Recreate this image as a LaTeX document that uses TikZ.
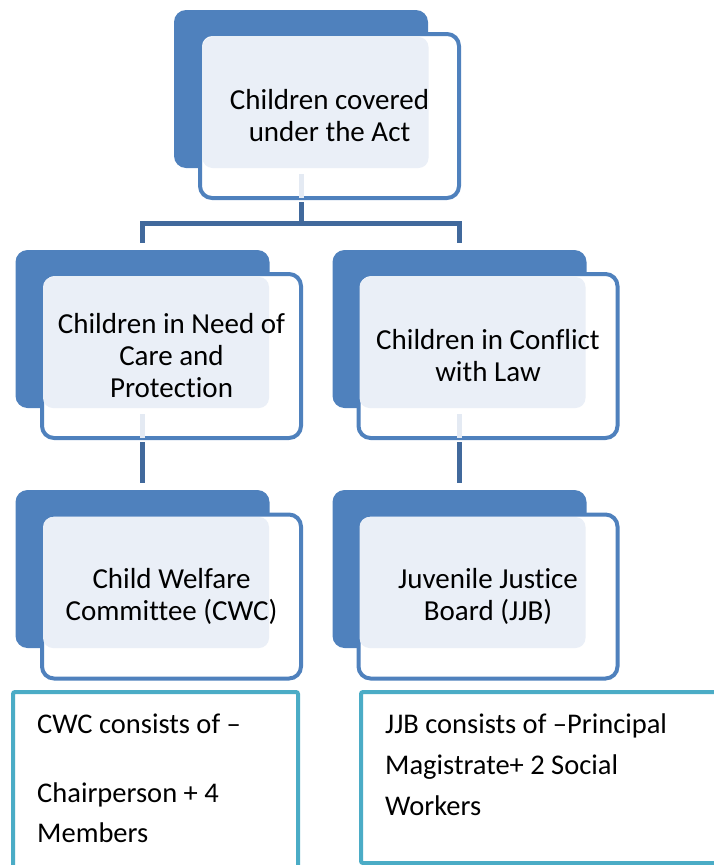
\documentclass[tikz,border=0pt]{standalone}
\usepackage{fontspec}
\setmainfont[Ligatures={NoCommon}]{Carlito}
\usetikzlibrary{calc}
\definecolor{accA}{HTML}{4F81BD}
\definecolor{connC}{HTML}{41699C}
\definecolor{lightF}{HTML}{EAEFF7}
\definecolor{stubC}{HTML}{E4EAF3}
\definecolor{cyanB}{HTML}{4BACC6}
\tikzset{
  backbox/.style={rectangle, rounded corners=12pt, fill=accA, draw=none, inner sep=0pt, minimum width=254pt, minimum height=158pt},
  frontbox/.style={rectangle, rounded corners=12pt, fill=white, draw=accA, line width=4pt, inner sep=0pt, minimum width=259pt, minimum height=164pt},
  lightbox/.style={rectangle, rounded corners=10pt, fill=lightF, draw=none, inner sep=0pt, minimum width=226pt, minimum height=131pt},
  conn/.style={draw=connC, line width=5pt},
  stub/.style={draw=stubC, line width=5pt},
  lbl/.style={align=center, font=\fontsize{29}{32}\selectfont, inner sep=0pt},
  note/.style={anchor=base west, font=\fontsize{28.5}{34}\selectfont, inner sep=0pt},
  notebox/.style={draw=cyanB, line width=4pt, fill=white, rounded corners=2pt}
}
\begin{document}
\begin{tikzpicture}[x=1pt,y=-1pt]
\useasboundingbox (0,0) rectangle (713,865);
% top unit
\node[backbox] (tb) at (301,89) {};
\node[frontbox] (tf) at (329.5,116) {};
\node[lightbox] (tl) at (315.5,102.5) {};
% middle left
\node[backbox] (mlb) at (142.5,329) {};
\node[frontbox] (mlf) at (171.5,356) {};
\node[lightbox] (mll) at (156,342.5) {};
% middle right
\node[backbox] (mrb) at (459.5,329) {};
\node[frontbox] (mrf) at (488,356) {};
\node[lightbox] (mrl) at (472.5,342.5) {};
% bottom left
\node[backbox] (blb) at (142.5,569) {};
\node[frontbox] (blf) at (171.5,596.5) {};
\node[lightbox] (bll) at (156,582.5) {};
% bottom right
\node[backbox] (brb) at (459.5,569) {};
\node[frontbox] (brf) at (488,596.5) {};
\node[lightbox] (brl) at (472.5,582.5) {};
% light stubs
\draw[stub] ($(tl.south -| tb.center)+(0,6)$) -- ($(tf.south -| tb.center)+(0,-2)$);
\draw[stub] ($(mll.south -| mlb.center)+(0,6)$) -- ($(mlf.south -| mlb.center)+(0,-2)$);
\draw[stub] ($(mrl.south -| mrb.center)+(0,6)$) -- ($(mrf.south -| mrb.center)+(0,-2)$);
% connectors
\coordinate (bus) at (301,223);
\draw[conn] ($(tf.south -| tb.center)+(0,2)$) -- (bus);
\draw[conn] ($(mlb.north)+(0,-7)$) |- (bus) -| ($(mrb.north)+(0,-7)$);
\draw[conn] ($(mlf.south -| mlb.center)+(0,2)$) -- ($(blb.north)+(0,-7)$);
\draw[conn] ($(mrf.south -| mrb.center)+(0,2)$) -- ($(brb.north)+(0,-7)$);
% labels
\node[lbl] (t1) at (tf.center) {Children covered\\under the Act};
\node[lbl] (t2) at (mlf.center) {Children in Need of\\Care and\\Protection};
\node[lbl] (t3) at (mrf.center) {Children in Conflict\\with Law};
\node[lbl] (t4) at (blf.center) {Child Welfare\\Committee (CWC)};
\node[lbl] (t5) at (brf.center) {Juvenile Justice\\Board (JJB)};
% note boxes
\draw[notebox] (13,692) rectangle (298,890);
\draw[notebox] (361,692) rectangle (730,863);
\node[note] (n1) at (37,733) {CWC consists of –};
\node[note] (n2) at (37,802) {Chairperson + 4};
\node[note] (n3) at (37,842) {Members};
\node[note] (n4) at (385,733) {JJB consists of –Principal};
\node[note] (n5) at (385,774) {Magistrate+ 2 Social};
\node[note] (n6) at (385,815) {Workers};
\end{tikzpicture}
\end{document}
